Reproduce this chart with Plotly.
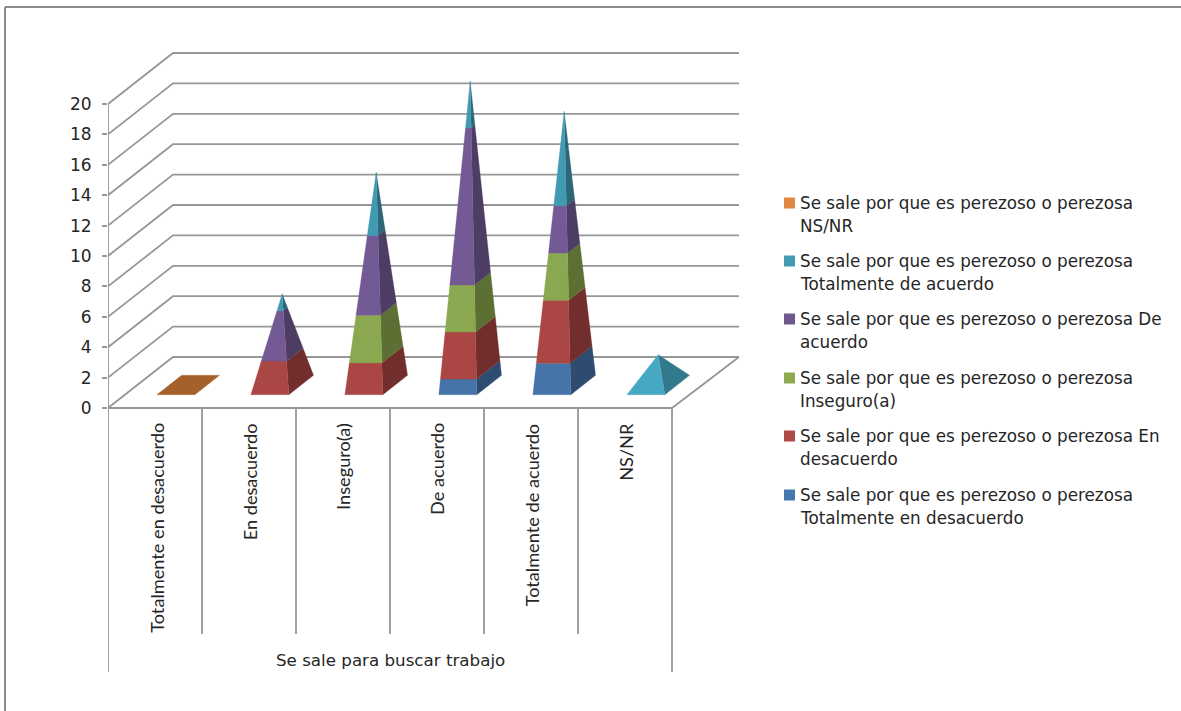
import plotly.graph_objects as go

# ---------- data ----------
categories = ["Totalmente en desacuerdo", "En desacuerdo", "Inseguro(a)",
              "De acuerdo", "Totalmente de acuerdo", "NS/NR"]
group_label = "Se sale para buscar trabajo"
y_ticks = list(range(0, 21, 2))

s_total_desacuerdo = [0, 0, 0, 1, 2, 0]
s_en_desacuerdo = [0, 2, 2, 3, 4, 0]
s_inseguro = [0, 0, 3, 3, 3, 0]
s_de_acuerdo = [0, 3, 5, 10, 3, 0]
s_total_acuerdo = [0, 1, 4, 3, 6, 2]
s_ns_nr = [0, 0, 0, 0, 0, 0]

PREFIX = "Se sale por que es perezoso o perezosa"
series = [  # bottom of stack first
    (s_total_desacuerdo, "#4674A8", "#2E4B70", "#4678B0"),
    (s_en_desacuerdo, "#AA4644", "#722E2C", "#AE4A48"),
    (s_inseguro, "#8AA84F", "#5C7034", "#8CAB4F"),
    (s_de_acuerdo, "#735A95", "#4D3C63", "#70578F"),
    (s_total_acuerdo, "#4299B2", "#2C6677", "#4499B3"),
    (s_ns_nr, "#E08A3C", "#A66029", "#E0883F"),
]
legend_lines = [  # top to bottom
    (5, PREFIX, "NS/NR"),
    (4, PREFIX, "Totalmente de acuerdo"),
    (3, PREFIX + " De", "acuerdo"),
    (2, PREFIX, "Inseguro(a)"),
    (1, PREFIX + " En", "desacuerdo"),
    (0, PREFIX, "Totalmente en desacuerdo"),
]
FLAT_COLOR = "#A66029"
LONE_FRONT, LONE_SIDE = "#46A8C2", "#327A8B"  # single-segment pyramid

# ---------- geometry of the oblique 3-D box ----------
W, H = 1181, 711
LEFT, ZERO_PX = 108, 408
PX_X, PX_Y = 94.0, 15.2
DX, DY = 65 / PX_X, 51 / PX_Y     # back-wall offset in axis units
DX_R = 67 / PX_X                  # right-hand floor edge offset
D0, D1 = 0.26, 0.64               # front/back depth of pyramid base
U0, UW = 0.34, 0.404              # left offset and width of base in a slot
N = len(categories)
GRID = "#979797"
FONT_H = "DejaVu Sans"
FONT_V = "Lato"
TXT = "#262626"


def proj(i, u, d, v, total):
    s = 1 - v / total if total else 1
    dc = (D0 + D1) / 2
    uu = 0.5 + (u - 0.5) * s
    dd = dc + (d - dc) * s
    return i + U0 + uu * UW + dd * DX, v + dd * DY


fig = go.Figure()


def line(xs, ys, width=1.8, color=GRID):
    fig.add_trace(go.Scatter(x=xs, y=ys, mode="lines", line=dict(color=color, width=width),
                             showlegend=False, hoverinfo="skip", cliponaxis=False))


def poly(pts, color, name):
    xs = [p[0] for p in pts] + [pts[0][0]]
    ys = [p[1] for p in pts] + [pts[0][1]]
    fig.add_trace(go.Scatter(x=xs, y=ys, mode="lines", fill="toself", fillcolor=color,
                             line=dict(color=color, width=0.3), name=name,
                             showlegend=False, hoverinfo="name"))


# walls and floor
for v in y_ticks:
    line([0, DX, N + DX_R], [v, v + DY, v + DY])
line([0, N, N + DX_R], [0, 0, DY])
line([0, 0], [0, y_ticks[-1]])

# lower axis dividers
for i in range(N + 1):
    bottom = -17.37 if i in (0, N) else -14.87
    line([i, i], [0, bottom])

# pyramids
for i in range(N):
    total = sum(s[0][i] for s in series)
    if total == 0:
        poly([proj(i, 0, D0, 0, 0), proj(i, 1, D0, 0, 0),
              proj(i, 1, D1, 0, 0), proj(i, 0, D1, 0, 0)], FLAT_COLOR, categories[i])
        continue
    base = 0
    for vals, front, side, _ in series:
        val = vals[i]
        if val == 0:
            continue
        top = base + val
        f, sd = front, side
        if val == total:
            f, sd = LONE_FRONT, LONE_SIDE
        poly([proj(i, 1, D0, base, total), proj(i, 1, D1, base, total),
              proj(i, 1, D1, top, total), proj(i, 1, D0, top, total)], sd, categories[i])
        poly([proj(i, 0, D0, base, total), proj(i, 1, D0, base, total),
              proj(i, 1, D0, top, total), proj(i, 0, D0, top, total)], f, categories[i])
        base = top

annotations = []
cat_x = [0.52, 0.51, 0.505, 0.50, 0.51, 0.51]
for i, c in enumerate(categories):
    annotations.append(dict(x=i + cat_x[i], y=-0.85, text=c, textangle=-90, showarrow=False,
                            xanchor="center", yanchor="top",
                            font=dict(family=FONT_V, size=18.2, color=TXT)))
annotations.append(dict(x=N / 2, y=-16.6, text=group_label, showarrow=False,
                        font=dict(family=FONT_H, size=16.7, color=TXT)))

shapes = [dict(type="line", xref="paper", yref="paper",
               x0=(5 - LEFT) / (W - LEFT), x1=(5 - LEFT) / (W - LEFT), y0=0, y1=(H - 7) / H,
               line=dict(color="#8C8C8C", width=2)),
          dict(type="line", xref="paper", yref="paper",
               x0=(5 - LEFT) / (W - LEFT), x1=1, y0=(H - 7) / H, y1=(H - 7) / H,
               line=dict(color="#8C8C8C", width=2))]

# legend, written beside its swatches
leg_y = [203, 261, 319, 378, 436, 495]
for (idx, l1, l2), yy in zip(legend_lines, leg_y):
    col = series[idx][3]
    x0 = (784 - LEFT) / (W - LEFT)
    x1 = (795 - LEFT) / (W - LEFT)
    shapes.append(dict(type="rect", xref="paper", yref="paper", x0=x0, x1=x1,
                       y0=(H - yy - 5.5) / H, y1=(H - yy + 5.5) / H,
                       fillcolor=col, line=dict(width=0)))
    for t, dy in ((l1, 0), (l2, 23)):
        annotations.append(dict(xref="paper", yref="paper",
                                x=(798 - LEFT) / (W - LEFT), y=(H - yy - dy) / H, text=t,
                                showarrow=False, xanchor="left", yanchor="middle",
                                font=dict(family=FONT_H, size=16.8, color=TXT)))

fig.update_layout(
    width=W, height=H, autosize=False, margin=dict(l=LEFT, r=0, t=0, b=0),
    paper_bgcolor="white", plot_bgcolor="white", showlegend=False,
    annotations=annotations, shapes=shapes,
    xaxis=dict(range=[0, (W - LEFT) / PX_X], visible=False, fixedrange=True),
    yaxis=dict(range=[(ZERO_PX - H) / PX_Y, ZERO_PX / PX_Y], tickvals=y_ticks,
               ticks="outside", ticklen=5, tickcolor=GRID, tickwidth=1.8,
               showgrid=False, zeroline=False, showline=False, fixedrange=True,
               ticklabelstandoff=7,
               tickfont=dict(family=FONT_H, size=17, color=TXT)),
)
fig.write_html("out.html", config=dict(displayModeBar=False),
               post_script="document.body.style.margin='0';document.body.style.overflow='hidden';")
